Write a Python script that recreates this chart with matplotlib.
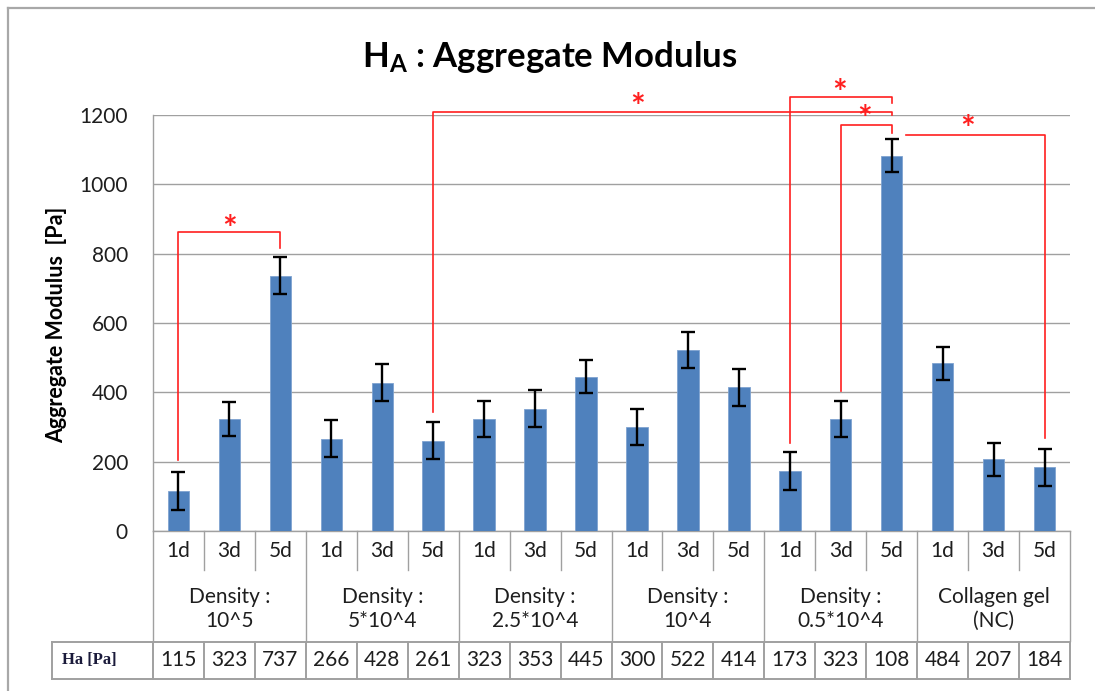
import matplotlib
matplotlib.use("Agg")
import matplotlib.pyplot as plt
from matplotlib.transforms import blended_transform_factory
from matplotlib.lines import Line2D

plt.rcParams['font.family'] = ['Lato', 'DejaVu Sans']
plt.rcParams['mathtext.fontset'] = 'custom'
plt.rcParams['mathtext.rm'] = 'Lato'
plt.rcParams['mathtext.bf'] = 'Lato:bold'

# ---- data -------------------------------------------------------------
days = ["1d", "3d", "5d"]
groups = ["Density :\n10^5", "Density :\n5*10^4", "Density :\n2.5*10^4",
          "Density :\n10^4", "Density :\n0.5*10^4", "Collagen gel\n(NC)"]
means = [115, 323, 737, 266, 428, 261, 323, 353, 445,
         300, 522, 414, 173, 323, 1083, 484, 207, 184]
errors = [55, 48, 53, 53, 54, 53, 53, 53, 48,
          53, 53, 54, 54, 52, 47, 48, 48, 53]
table_header = "Ha [Pa]"
table_text = ["115", "323", "737", "266", "428", "261", "323", "353", "445",
              "300", "522", "414", "173", "323", "108", "484", "207", "184"]
# significant pairs (bar index a, bar index b)
sig_pairs = [(0, 2), (5, 14), (12, 14), (13, 14), (14, 17)]

# ---- layout -----------------------------------------------------------
W, H = 1095, 691
BAR = '#4F81BD'
GRID = '#A0A0A0'
RED = '#FF1F1F'
TXT = '#1E1E1E'

fig = plt.figure(figsize=(W / 100, H / 100), dpi=100)
ax = fig.add_axes([153 / W, 1 - 531 / H, (1070 - 153) / W, (531 - 115) / H])

n = len(means)
x = list(range(n))
ax.bar(x, means, width=0.42, color=BAR, edgecolor='#7FA3D0', linewidth=0.6,
       zorder=3)
ax.errorbar(x, means, yerr=errors, fmt='none', ecolor='black', elinewidth=1.7,
            capsize=4.8, capthick=1.7, zorder=4)

ax.set_xlim(-0.5, n - 0.5)
ax.set_ylim(0, 1200)
ax.set_yticks(range(0, 1201, 200))
ax.set_xticks([])
ax.yaxis.grid(True, color=GRID, linewidth=1.0, zorder=0)
ax.set_axisbelow(True)
for s in ['top', 'right']:
    ax.spines[s].set_visible(False)
for s in ['left', 'bottom']:
    ax.spines[s].set_color(GRID)
    ax.spines[s].set_linewidth(1.0)
ax.tick_params(axis='y', length=0, pad=18, labelsize=15, labelcolor=TXT)


def fy(py):
    return 1 - py / H


fig.text(57 / W, fy(325), "Aggregate Modulus  [Pa]", rotation=90,
         ha='center', va='center', fontsize=15.5, fontweight='bold',
         color='black')

fig.text(550 / W, fy(57), r"$\mathbf{H_A}$ : Aggregate Modulus",
         ha='center', va='center', fontsize=25, fontweight='bold', color='black')

tr = blended_transform_factory(ax.transData, fig.transFigure)

# category axis: day labels and group labels
for i in range(n):
    ax.text(i, fy(551), days[i % 3], transform=tr, ha='center', va='center',
            fontsize=15, color=TXT)
for g, label in enumerate(groups):
    ax.text(3 * g + 1, fy(609), label, transform=tr, ha='center', va='center',
            fontsize=15, color=TXT, linespacing=1.2)
for k in range(n + 1):
    xs = k - 0.5
    bottom = 641 if k % 3 == 0 else 570
    fig.add_artist(Line2D([xs, xs], [fy(531), fy(bottom)], transform=tr,
                          color=GRID, linewidth=1.0))

# value table row
ty0, ty1 = 642, 679
fx0 = 52 / W
fig.add_artist(Line2D([fx0, 1070 / W], [fy(ty0), fy(ty0)],
                      transform=fig.transFigure, color=GRID, linewidth=1.4))
fig.add_artist(Line2D([fx0, 1070 / W], [fy(ty1), fy(ty1)],
                      transform=fig.transFigure, color=GRID, linewidth=1.4))
fig.add_artist(Line2D([fx0, fx0], [fy(ty0), fy(ty1)],
                      transform=fig.transFigure, color=GRID, linewidth=1.4))
for k in range(n + 1):
    fig.add_artist(Line2D([k - 0.5, k - 0.5], [fy(ty0), fy(ty1)], transform=tr,
                          color=GRID, linewidth=1.4))
fig.text(62 / W, fy((ty0 + ty1) / 2), table_header, ha='left', va='center',
         fontsize=12, family='Liberation Serif', fontweight='bold',
         color='#1A1A3A')
for i, t in enumerate(table_text):
    ax.text(i, fy((ty0 + ty1) / 2), t, transform=tr, ha='center', va='center',
            fontsize=15, color=TXT)

# significance brackets: (top, left foot, right foot, x start, star x, star y)
bracket_geom = [
    (862, 205, 815, None, 1.0, 868),
    (1208, 344, 1200, None, 9.02, 1220),
    (1251, 253, 1235, None, 12.97, 1261),
    (1171, 405, 1147, None, 13.46, 1187),
    (1142, None, 268, 14.28, 15.49, 1158),
]
for (a, b), (top, lf, rf, xstart, sx, sy) in zip(sig_pairs, bracket_geom):
    xa = a if xstart is None else xstart
    xs_, ys_ = [], []
    if lf is not None:
        xs_ += [xa]
        ys_ += [lf]
    xs_ += [xa, b, b]
    ys_ += [top, top, rf]
    ax.plot(xs_, ys_, color=RED, linewidth=1.2, clip_on=False, zorder=5)
    ax.text(sx, sy, "*", ha='center', va='center', fontsize=25,
            fontweight='bold', color=RED, clip_on=False, zorder=6)

# outer chart frame
fig.add_artist(Line2D([8 / W, 8 / W], [fy(8), 0], transform=fig.transFigure,
                      color='#A8A8A8', linewidth=1.6))
fig.add_artist(Line2D([8 / W, 1], [fy(8), fy(8)], transform=fig.transFigure,
                      color='#A8A8A8', linewidth=1.6))

fig.savefig("out.png", dpi=100)
